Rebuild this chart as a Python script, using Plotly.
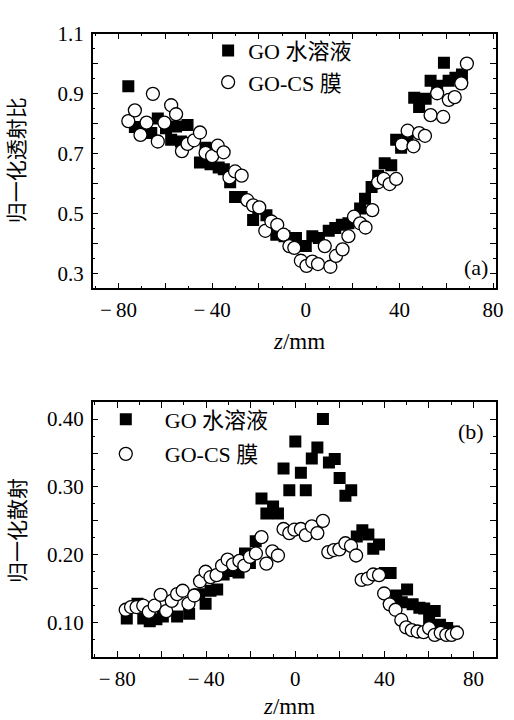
import plotly.graph_objects as go

W, H = 514, 720

# (a) normalized transmittance vs z
ta_z = [-75.8, -73.0, -70.2, -66.0, -63.2, -59.7, -57.5, -55.4, -53.3, -50.5, -45.2, -42.8, -40.7,
        -37.2, -35.0, -32.3, -30.2, -27.4, -22.5, -20.3, -16.8, -12.6, -9.1, -5.6, -4.2, 0.0, 2.8,
        5.6, 9.8, 12.6, 15.4, 18.2, 23.2, 25.3, 28.1, 30.9, 33.7, 36.5, 38.6, 40.7, 43.5, 46.3,
        48.4, 51.2, 53.3, 56.1, 59.0, 61.0, 63.9, 66.7]
ta_v = [0.924, 0.788, 0.768, 0.768, 0.817, 0.784, 0.746, 0.790, 0.740, 0.795, 0.670, 0.719, 0.664,
        0.653, 0.647, 0.604, 0.555, 0.555, 0.478, 0.516, 0.494, 0.429, 0.424, 0.418, 0.418, 0.391,
        0.424, 0.418, 0.442, 0.451, 0.462, 0.467, 0.516, 0.549, 0.588, 0.626, 0.667, 0.661, 0.746,
        0.719, 0.757, 0.886, 0.855, 0.883, 0.943, 0.926, 1.003, 0.943, 0.953, 0.964]

tb_z = [-75.8, -73.0, -70.6, -68.0, -65.3, -63.2, -60.4, -57.5, -55.4, -52.9, -50.5, -47.7, -45.2,
        -42.8, -40.0, -37.6, -35.1, -32.6, -30.2, -27.4, -25.0, -22.5, -19.9, -17.3, -14.7, -12.2,
        -9.5, -7.0, -4.9, -2.1, 0.3, 2.8, 5.2, 8.1, 10.5, 12.9, 15.7, 18.2, 20.6, 23.2, 25.5, 28.4,
        30.9, 33.3, 35.8, 38.6, 41.0, 43.5, 46.0, 48.4, 50.9, 53.3, 56.1, 58.7, 61.1, 63.6, 66.4,
        68.8]
tb_v = [0.808, 0.844, 0.762, 0.803, 0.899, 0.740, 0.803, 0.861, 0.831, 0.708, 0.732, 0.744, 0.770,
        0.702, 0.691, 0.726, 0.704, 0.620, 0.640, 0.626, 0.544, 0.527, 0.520, 0.442, 0.473, 0.462,
        0.429, 0.391, 0.385, 0.342, 0.325, 0.339, 0.331, 0.391, 0.322, 0.358, 0.380, 0.424, 0.489,
        0.467, 0.453, 0.511, 0.604, 0.615, 0.598, 0.615, 0.730, 0.776, 0.724, 0.768, 0.759, 0.828,
        0.901, 0.822, 0.879, 0.888, 0.934, 1.000]

# (b) normalized scattering vs z
sa_z = [-75.7, -70.9, -68.3, -65.4, -62.4, -59.5, -53.1, -47.7, -43.2, -40.3, -38.1, -35.1, -32.2,
        -28.5, -25.5, -22.6, -20.4, -17.8, -15.2, -13.0, -10.0, -7.8, -5.3, -2.7, 0.0, 2.5, 4.7,
        7.4, 9.9, 12.4, 15.1, 17.7, 19.9, 22.5, 25.1, 27.6, 30.1, 32.8, 35.0, 37.6, 40.2, 42.8,
        45.3, 47.8, 50.2, 52.7, 55.7, 57.9, 60.1, 62.6, 65.0, 68.2, 71.2]
sa_v = [0.106, 0.128, 0.106, 0.102, 0.105, 0.109, 0.109, 0.113, 0.142, 0.128, 0.147, 0.149, 0.171,
        0.176, 0.174, 0.202, 0.188, 0.220, 0.283, 0.261, 0.271, 0.261, 0.327, 0.295, 0.367, 0.321,
        0.295, 0.342, 0.358, 0.400, 0.336, 0.341, 0.313, 0.287, 0.295, 0.227, 0.236, 0.230, 0.209,
        0.215, 0.173, 0.173, 0.140, 0.130, 0.149, 0.127, 0.122, 0.121, 0.106, 0.117, 0.097, 0.092,
        0.087]

sb_z = [-76.2, -73.8, -71.3, -68.3, -65.8, -63.2, -60.5, -58.0, -55.5, -53.1, -50.6, -48.0, -45.4,
        -42.8, -40.3, -38.1, -35.4, -32.9, -30.4, -28.0, -25.1, -22.9, -20.4, -17.7, -15.2, -13.0,
        -10.3, -7.8, -5.3, -2.7, -0.4, 2.5, 4.7, 7.4, 9.9, 12.4, 14.8, 17.3, 19.8, 22.5, 25.0, 27.3,
        29.8, 32.5, 35.0, 37.6, 39.9, 42.4, 45.0, 47.6, 49.8, 52.3, 54.9, 57.6, 60.1, 62.6, 65.3,
        67.8, 70.2, 72.6]
sb_v = [0.119, 0.123, 0.123, 0.125, 0.116, 0.125, 0.141, 0.117, 0.132, 0.142, 0.147, 0.128, 0.140,
        0.161, 0.175, 0.167, 0.170, 0.184, 0.193, 0.186, 0.191, 0.184, 0.197, 0.202, 0.226, 0.187,
        0.205, 0.199, 0.238, 0.232, 0.237, 0.238, 0.229, 0.242, 0.232, 0.250, 0.204, 0.207, 0.208,
        0.217, 0.213, 0.199, 0.163, 0.165, 0.171, 0.170, 0.143, 0.127, 0.119, 0.104, 0.093, 0.089,
        0.087, 0.086, 0.092, 0.082, 0.085, 0.082, 0.082, 0.085]

names = ["GO 水溶液", "GO-CS 膜"]

x_ticks = [-80, -60, -40, -20, 0, 20, 40, 60, 80]
x_text = ["\u2212\u200980", "", "\u2212\u200940", "", "0", "", "40", "", "80"]
ya_ticks = [0.3, 0.4, 0.5, 0.6, 0.7, 0.8, 0.9, 1.0, 1.1]
ya_text = ["0.3", "", "0.5", "", "0.7", "", "0.9", "", "1.1"]
yb_ticks = [0.05, 0.10, 0.15, 0.20, 0.25, 0.30, 0.35, 0.40]
yb_text = ["", "0.10", "", "0.20", "", "0.30", "", "0.40"]

SERIF = "Liberation Serif, Noto Sans CJK SC, serif"
FONT = dict(family=SERIF, size=21, color="black")


def px_x(p):
    return p / W


def px_y(p):
    return 1 - p / H


def square_trace(x, y, xa, ya, leg, grp):
    return go.Scatter(x=x, y=y, xaxis=xa, yaxis=ya, mode="markers", name=names[0],
                      legend=leg, legendgroup=grp + "s",
                      marker=dict(symbol="square", size=12, color="black",
                                  line=dict(width=0)))


def circle_trace(x, y, xa, ya, leg, grp):
    return go.Scatter(x=x, y=y, xaxis=xa, yaxis=ya, mode="markers", name=names[1],
                      legend=leg, legendgroup=grp + "c",
                      marker=dict(symbol="circle", size=13, color="white",
                                  line=dict(width=1.3, color="black")))


fig = go.Figure()
fig.add_trace(square_trace(ta_z, ta_v, "x", "y", "legend", "a"))
fig.add_trace(circle_trace(tb_z, tb_v, "x", "y", "legend", "a"))
fig.add_trace(square_trace(sa_z, sa_v, "x2", "y2", "legend2", "b"))
fig.add_trace(circle_trace(sb_z, sb_v, "x2", "y2", "legend2", "b"))

axis_common = dict(showline=True, linecolor="black", linewidth=1.5, mirror="ticks",
                   ticks="inside", ticklen=6, tickwidth=1.2, tickcolor="black",
                   showgrid=False, zeroline=False, tickfont=FONT)
x_minor = dict(dtick=10, ticks="inside", ticklen=3, tickcolor="black", showgrid=False)

fig.update_layout(
    width=W, height=H,
    margin=dict(l=0, r=0, t=0, b=0),
    paper_bgcolor="white", plot_bgcolor="white",
    font=FONT,
    xaxis=dict(domain=[px_x(94), px_x(503)], range=[-91, 81.3], anchor="y",
               tickmode="array", tickvals=x_ticks, ticktext=x_text,
               ticklabelstandoff=2, minor=x_minor, **axis_common),
    yaxis=dict(domain=[px_y(281), px_y(22)], range=[0.25, 1.1], anchor="x",
               tickmode="array", tickvals=ya_ticks, ticktext=ya_text, ticklabelstandoff=3,
               minor=dict(dtick=0.05, ticks="inside", ticklen=3, tickcolor="black", showgrid=False),
               **axis_common),
    xaxis2=dict(domain=[px_x(94), px_x(503)], range=[-91, 90.2], anchor="y2",
                tickmode="array", tickvals=x_ticks, ticktext=x_text,
                ticklabelstandoff=2, minor=x_minor, **axis_common),
    yaxis2=dict(domain=[px_y(656), px_y(397)], range=[0.0493, 0.4246], anchor="x2",
                tickmode="array", tickvals=yb_ticks, ticktext=yb_text, ticklabelstandoff=3,
                minor=dict(dtick=0.025, ticks="inside", ticklen=3, tickcolor="black", showgrid=False),
                **axis_common),
    legend=dict(x=px_x(211), y=px_y(18), xanchor="left", yanchor="top",
                bgcolor="rgba(0,0,0,0)", borderwidth=0, traceorder="grouped",
                tracegroupgap=0, font=dict(family=SERIF, size=22, color="black")),
    legend2=dict(x=px_x(88), y=px_y(393), xanchor="left", yanchor="top",
                 bgcolor="rgba(0,0,0,0)", borderwidth=0, traceorder="grouped",
                 tracegroupgap=3, itemwidth=68,
                 font=dict(family=SERIF, size=22, color="black")),
    showlegend=True,
)

annots = [
    dict(text="归一化透射比", x=px_x(18), y=px_y(151), textangle=-90, size=21),
    dict(text="归一化散射", x=px_x(18), y=px_y(527), textangle=-90, size=21),
    dict(text="<i>z</i>/mm", x=px_x(303), y=px_y(335), size=23),
    dict(text="<i>z</i>/mm", x=px_x(293), y=px_y(706), size=23),
    dict(text="(a)", x=px_x(483), y=px_y(260), size=22),
    dict(text="(b)", x=px_x(478), y=px_y(427), size=22),
]
for a in annots:
    size = a.pop("size")
    fig.add_annotation(xref="paper", yref="paper", showarrow=False,
                       xanchor="center", yanchor="middle",
                       font=dict(family=SERIF, size=size, color="black"), **a)

fig.write_html("out.html")
